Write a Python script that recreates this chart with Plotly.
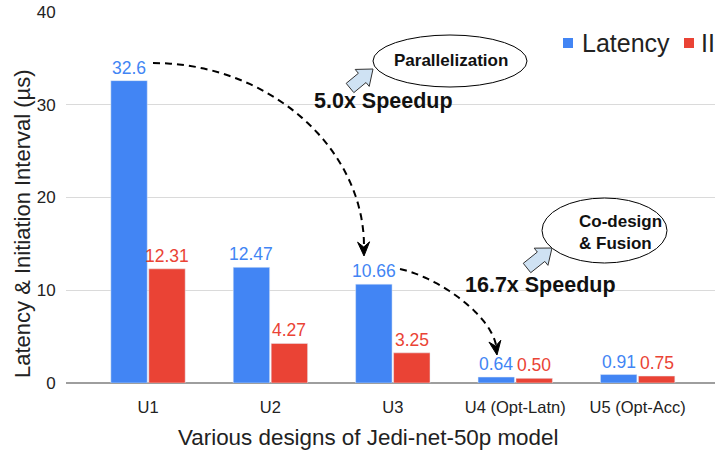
import math
import plotly.graph_objects as go

categories = ["U1", "U2", "U3", "U4 (Opt-Latn)", "U5 (Opt-Acc)"]
latency = [32.6, 12.47, 10.66, 0.64, 0.91]
latency_labels = ["32.6", "12.47", "10.66", "0.64", "0.91"]
ii = [12.31, 4.27, 3.25, 0.50, 0.75]
ii_labels = ["12.31", "4.27", "3.25", "0.50", "0.75"]

BLUE = "#4285F4"
RED = "#EA4335"
FONT = "Liberation Sans, Arial, sans-serif"
BARGAP = 0.38

# plot area in pixels (used only for the decorations)
W, H = 715, 452
L, R, T, B = 66, 0, 12, 69
PW, PH = W - L - R, H - T - B


def px(x, y):
    # pixel -> paper coords
    return (x - L) / PW, (H - B - y) / PH


def path(points, close=False):
    s = ""
    for i, (x, y) in enumerate(points):
        xp, yp = px(x, y)
        s += ("M" if i == 0 else "L") + f"{xp:.5f},{yp:.5f} "
    return s + ("Z" if close else "")


def bezier(p0, p1, p2, p3, n=40):
    pts = []
    for k in range(n + 1):
        t = k / n
        a, b, c, d = (1 - t) ** 3, 3 * (1 - t) ** 2 * t, 3 * (1 - t) * t ** 2, t ** 3
        pts.append((a * p0[0] + b * p1[0] + c * p2[0] + d * p3[0],
                    a * p0[1] + b * p1[1] + c * p2[1] + d * p3[1]))
    return pts


def arrow_head(tip, frm, length=14, half=6, notch=9):
    ux, uy = tip[0] - frm[0], tip[1] - frm[1]
    n = math.hypot(ux, uy)
    ux, uy = ux / n, uy / n
    nx, ny = -uy, ux
    bx, by = tip[0] - ux * length, tip[1] - uy * length
    mx, my = tip[0] - ux * notch, tip[1] - uy * notch
    return [tip, (bx + nx * half, by + ny * half), (mx, my), (bx - nx * half, by - ny * half)]


def block_arrow(tail, tip, w=6, hw=11, hl=14):
    ux, uy = tip[0] - tail[0], tip[1] - tail[1]
    n = math.hypot(ux, uy)
    ux, uy = ux / n, uy / n
    nx, ny = -uy, ux
    kx, ky = tip[0] - ux * hl, tip[1] - uy * hl
    return [(tail[0] + nx * w, tail[1] + ny * w), (kx + nx * w, ky + ny * w),
            (kx + nx * hw, ky + ny * hw), tip,
            (kx - nx * hw, ky - ny * hw), (kx - nx * w, ky - ny * w),
            (tail[0] - nx * w, tail[1] - ny * w)]


xs = list(range(len(categories)))

fig = go.Figure()
fig.add_trace(go.Bar(x=xs, y=latency, name="Latency", marker_color=BLUE, showlegend=False))
fig.add_trace(go.Bar(x=xs, y=ii, name="II", marker_color=RED, showlegend=False))

annotations = []

# value labels above the bars (centre of each bar in a group of two)
half_slot = (1 - BARGAP) / 4
for vals, labels, color, off in [(latency, latency_labels, BLUE, -half_slot),
                                 (ii, ii_labels, RED, half_slot)]:
    for i, (v, t) in enumerate(zip(vals, labels)):
        annotations.append(dict(x=i + off, y=v, xref="x", yref="y", text=t,
                                showarrow=False, yanchor="bottom", yshift=1,
                                font=dict(family=FONT, size=17.5, color=color)))

shapes = []
# dashed speedup curves
c1 = bezier((153, 63), (270, 63), (364, 149), (364, 246))
c2 = bezier((400, 269), (440, 278), (490, 315), (496, 345))
for c, tip in [(c1, (364, 256)), (c2, (497, 355))]:
    shapes.append(dict(type="path", xref="paper", yref="paper", path=path(c),
                       line=dict(color="black", width=2, dash="7px,5px")))
    shapes.append(dict(type="path", xref="paper", yref="paper",
                       path=path(arrow_head(tip, c[-3]), close=True),
                       fillcolor="black", line=dict(color="black", width=1)))

# callout ellipses
for x0, y0, x1, y1 in [(373, 35, 527, 87), (542, 198, 667, 263)]:
    a0 = px(x0, y1)
    a1 = px(x1, y0)
    shapes.append(dict(type="circle", xref="paper", yref="paper",
                       x0=a0[0], y0=a0[1], x1=a1[0], y1=a1[1],
                       fillcolor="white", line=dict(color="black", width=1)))

# light blue block arrows
for tail, tip in [((350, 88), (373, 69)), ((527, 268), (552, 248))]:
    shapes.append(dict(type="path", xref="paper", yref="paper",
                       path=path(block_arrow(tail, tip), close=True),
                       fillcolor="#cfe2f3", line=dict(color="#333333", width=1)))

# legend keys
for x0, color in [(563, BLUE), (684, RED)]:
    a0 = px(x0, 48)
    a1 = px(x0 + 10, 38)
    shapes.append(dict(type="rect", xref="paper", yref="paper",
                       x0=a0[0], y0=a0[1], x1=a1[0], y1=a1[1],
                       fillcolor=color, line=dict(width=0)))


def note(text, x, y, size, xanchor="center", angle=0, align="center", color="#111111"):
    xp, yp = px(x, y)
    annotations.append(dict(text=text, x=xp, y=yp, xref="paper", yref="paper",
                            xanchor=xanchor, yanchor="middle", showarrow=False,
                            textangle=angle, align=align,
                            font=dict(family=FONT, size=size, color=color)))


note("Latency", 580, 43, 25, xanchor="left", color="#222222")
note("II", 699, 43, 25, xanchor="left", color="#222222")
note("<b>5.0x Speedup</b>", 383, 101, 21.5)
note("<b>16.7x Speedup</b>", 540, 285, 21.5)
note("<b>Parallelization</b>", 451, 61, 17)
note("<b>Co-design<br>& Fusion</b>", 577, 232, 17, xanchor="left", align="left")
note("Various designs of Jedi-net-50p model", 368, 437, 22.4, color="#222222")
note("Latency & Initiation Interval (µs)", 22, 224, 22, angle=-90, color="#222222")

fig.update_layout(
    width=W, height=H,
    margin=dict(l=L, r=R, t=T, b=B),
    paper_bgcolor="white", plot_bgcolor="white",
    barmode="group", bargap=BARGAP, bargroupgap=0.04,
    font=dict(family=FONT, color="#222222"),
    shapes=shapes, annotations=annotations,
)
fig.update_xaxes(
    range=[-0.67, 4.632], tickmode="array", tickvals=xs, ticktext=categories,
    showgrid=False, zeroline=False, showline=False,
    tickfont=dict(size=16.5, family=FONT, color="#222222"),
    ticks="outside", ticklen=9, tickcolor="rgba(0,0,0,0)",
)
fig.update_yaxes(
    range=[0, 40], dtick=10, showgrid=True, gridcolor="#dadada", gridwidth=1,
    zeroline=True, zerolinecolor="#9e9e9e", zerolinewidth=2,
    tickfont=dict(size=17, family=FONT, color="#222222"),
    ticks="outside", ticklen=6, tickcolor="rgba(0,0,0,0)",
)

# the page body has an 8px default margin; remove it so the figure fills the window
fig.write_html("out.html", config={"displayModeBar": False},
               post_script="document.body.style.margin='0';")
